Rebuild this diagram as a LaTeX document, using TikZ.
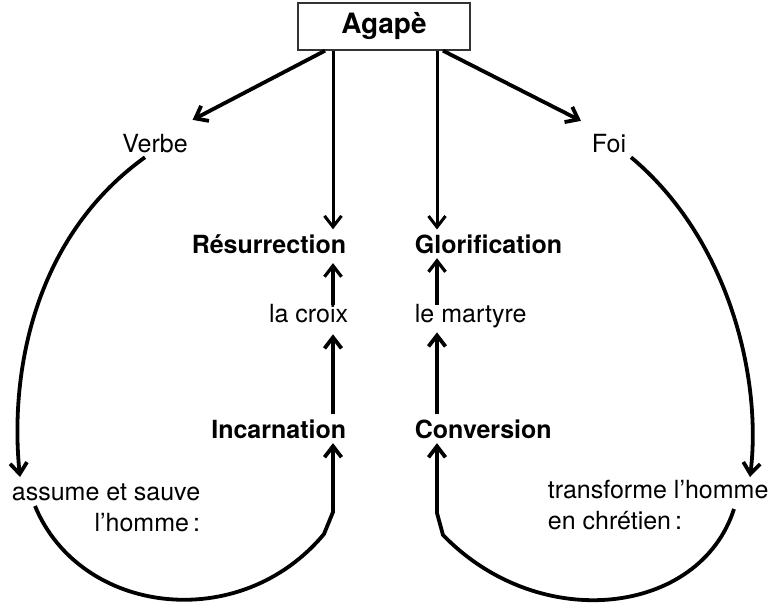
\documentclass[tikz,border=0pt]{standalone}
\usepackage{fontspec}
\setmainfont{TeX Gyre Heros}
\usetikzlibrary{arrows.meta}

\begin{document}
\begin{tikzpicture}[x=1pt, y=-1pt, >={Straight Barb[length=11pt,width=17pt]}, line width=3.8pt,
  word/.style={inner sep=3pt, font=\fontsize{25}{31}\selectfont},
  keyword/.style={word, font=\fontsize{25}{31}\selectfont\bfseries}]
\useasboundingbox (0,0) rectangle (774,610);

\node[draw=black!80, line width=1.4pt, minimum width=172pt, minimum height=47pt, font=\fontsize{28}{30}\selectfont\bfseries] (agape) at (384,26.5) {Agapè};

\node[word, anchor=base] (verbe) at (155,152) {Verbe};
\node[word, anchor=base] (foi) at (609,152) {Foi};
\node[keyword, anchor=base east] (res) at (351,253) {Résurrection};
\node[keyword, anchor=base west] (glo) at (410,253) {Glorification};
\node[word, anchor=base east] (croix) at (353,322) {la croix};
\node[word, anchor=base west] (martyre) at (410,322) {le martyre};
\node[keyword, anchor=base east] (inc) at (351,438) {Incarnation};
\node[keyword, anchor=base west] (conv) at (410,438) {Conversion};
\node[word, align=right, anchor=north west] (assume) at (7,479) {assume et sauve\\l’homme\,:};
\node[word, align=left, anchor=north west] (transf) at (543,475) {transforme l’homme\\en chrétien\,:};

\coordinate (axL) at (333,0);
\coordinate (axR) at (437,0);
\coordinate (fromL) at (35,506);
\coordinate (fromR) at (734,509);
\coordinate (toL) at (20,477);
\coordinate (toR) at (750,477);
\coordinate (kinkL) at (324,534);
\coordinate (kinkR) at (443,535);

% from Agape
\draw[->] ([xshift=-59pt]agape.south) -- ([yshift=9pt]verbe.north east);
\draw[->] ([xshift=59pt]agape.south) -- ([xshift=-6pt,yshift=8pt]foi.north west);
\draw[->, line width=3pt] (agape.south -| axL) -- (res.north -| axL);
\draw[->, line width=3pt] (agape.south -| axR) -- (glo.north -| axR);

% the two ladders
\draw[->, line width=3.2pt, shorten >=5pt, shorten <=-6pt] (croix.north -| axL) -- (res.south -| axL);
\draw[->, line width=3.2pt, shorten <=-6pt] (martyre.north -| axR) -- (glo.south -| axR);
\draw[->, shorten >=7pt] (inc.north -| axL) -- (croix.south -| axL);
\draw[->] (conv.north -| axR) -- (martyre.south -| axR);

% big loops
\draw[->] ([xshift=-10pt]verbe.south) .. controls (30,240) and (10,380) .. (toL);
\draw[->] (foi.south east) .. controls (730,240) and (762,380) .. (toR);
\draw[->] (fromL) .. controls (80,615) and (240,635) .. (kinkL) -- ([yshift=22pt]kinkL -| axL) -- (inc.south -| axL);
\draw[->] (fromR) .. controls (700,615) and (540,635) .. (kinkR) -- ([yshift=22pt]kinkR -| axR) -- (conv.south -| axR);
\end{tikzpicture}
\end{document}
